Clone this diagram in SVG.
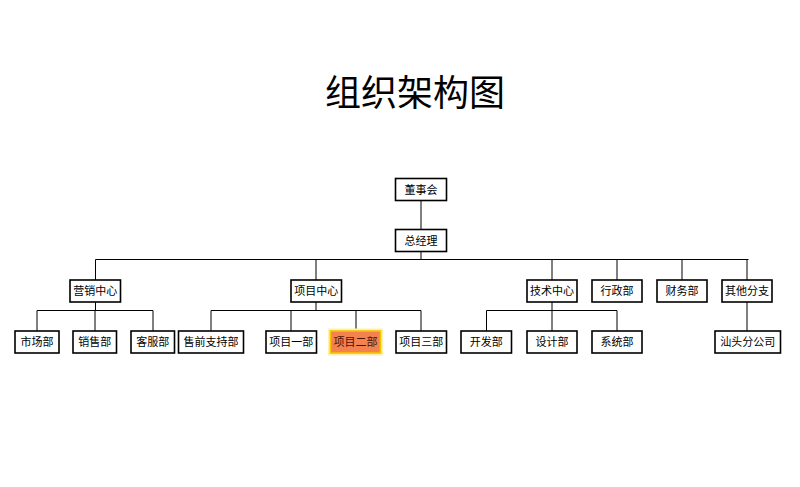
<svg xmlns="http://www.w3.org/2000/svg" width="800" height="487" viewBox="0 0 800 487">
<style>
.b{fill:#fff;stroke:#000;stroke-width:1.6}
.t{font-family:"Noto Sans CJK SC","Noto Sans",sans-serif;font-size:11px;fill:#000;text-anchor:middle}
.c{fill:none;stroke:#000;stroke-width:1}
</style>
<rect width="800" height="487" fill="#fff"/>
<text x="415" y="106" font-family="Noto Sans CJK SC, sans-serif" font-size="36" text-anchor="middle" fill="#000">组织架构图</text>
<g id="connectors">
<path class="c" d="M421 200.5V229.5M421 251.5V259.5M95.5 259.5H748.5M95.5 259.5V280M316 259.5V280M552 259.5V280M617 259.5V280M682 259.5V280M747 259.5V280"/>
<path class="c" d="M95.5 302V310.5M37 310.5H153M37 310.5V331M95 310.5V331M153 310.5V331"/>
<path class="c" d="M316 302V310.5M211 310.5H421M211 310.5V331M291 310.5V331M356 310.5V331M421 310.5V331"/>
<path class="c" d="M552 302V310.5M486.5 310.5H617M486.5 310.5V331M552 310.5V331M617 310.5V331"/>
<path class="c" d="M747 302V331"/>
</g>
<g id="n_dongshihui"><rect class="b" x="395.5" y="178.5" width="51" height="22"/><text class="t" x="421" y="193.5">董事会</text></g>
<g id="n_zongjingli"><rect class="b" x="395.5" y="229.5" width="51" height="22"/><text class="t" x="421" y="244.5">总经理</text></g>
<g id="n_yingxiao"><rect class="b" x="70" y="280" width="50.5" height="22"/><text class="t" x="95.3" y="295">营销中心</text></g>
<g id="n_xiangmu"><rect class="b" x="291" y="280" width="50.5" height="22"/><text class="t" x="316.2" y="295">项目中心</text></g>
<g id="n_jishu"><rect class="b" x="527" y="280" width="50" height="22"/><text class="t" x="552" y="295">技术中心</text></g>
<g id="n_xingzheng"><rect class="b" x="592" y="280" width="50" height="22"/><text class="t" x="617" y="295">行政部</text></g>
<g id="n_caiwu"><rect class="b" x="657" y="280" width="50" height="22"/><text class="t" x="682" y="295">财务部</text></g>
<g id="n_qita"><rect class="b" x="722" y="280" width="50" height="22"/><text class="t" x="747" y="295">其他分支</text></g>
<g id="n_shichang"><rect class="b" x="15" y="331" width="44" height="22"/><text class="t" x="37" y="346">市场部</text></g>
<g id="n_xiaoshou"><rect class="b" x="73" y="331" width="43.5" height="22"/><text class="t" x="94.8" y="346">销售部</text></g>
<g id="n_kefu"><rect class="b" x="131" y="331" width="43.5" height="22"/><text class="t" x="152.8" y="346">客服部</text></g>
<g id="n_shouqian"><rect class="b" x="178.5" y="331" width="65" height="22"/><text class="t" x="211" y="346">售前支持部</text></g>
<g id="n_xm1"><rect class="b" x="266" y="331" width="50.5" height="22"/><text class="t" x="291.2" y="346">项目一部</text></g>
<g id="n_xm2"><rect x="329" y="329.5" width="53" height="25" fill="#fbe98a" stroke="#fdf0b0" stroke-width="2"/><rect x="330.5" y="331" width="50" height="22" fill="#f4824e" stroke="#f5c400" stroke-width="1.6"/><text class="t" x="355.5" y="346" style="fill:#4a1206">项目二部</text></g>
<g id="n_xm3"><rect class="b" x="396" y="331" width="50.5" height="22"/><text class="t" x="421.2" y="346">项目三部</text></g>
<g id="n_kaifa"><rect class="b" x="461" y="331" width="50.5" height="22"/><text class="t" x="486.2" y="346">开发部</text></g>
<g id="n_sheji"><rect class="b" x="527" y="331" width="50" height="22"/><text class="t" x="552" y="346">设计部</text></g>
<g id="n_xitong"><rect class="b" x="592" y="331" width="50" height="22"/><text class="t" x="617" y="346">系统部</text></g>
<g id="n_shantou"><rect class="b" x="715" y="331" width="65.5" height="22"/><text class="t" x="747.7" y="346">汕头分公司</text></g>
</svg>
